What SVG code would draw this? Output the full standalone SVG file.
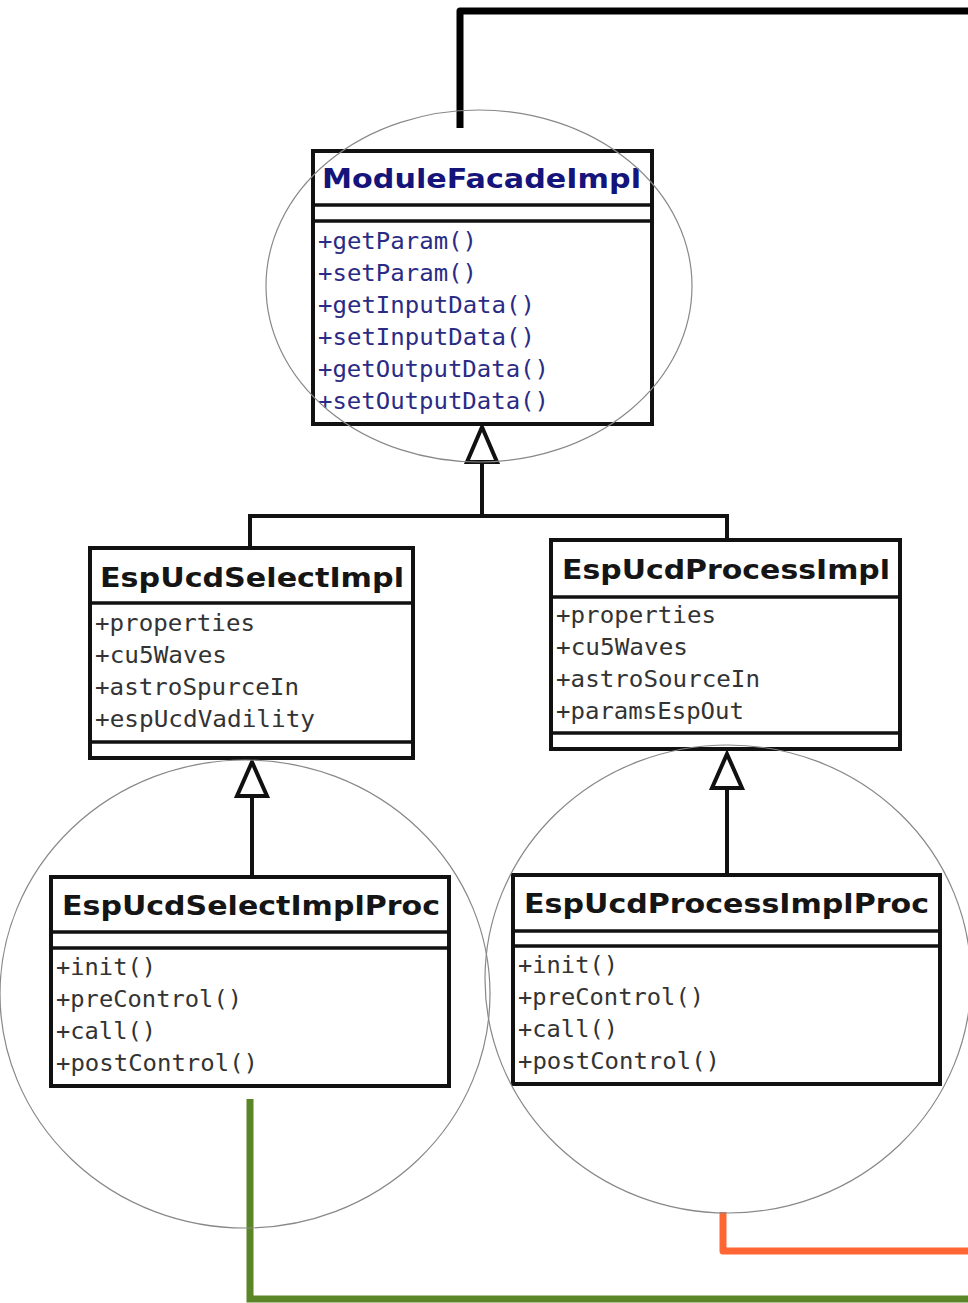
<svg xmlns="http://www.w3.org/2000/svg" width="968" height="1303" viewBox="0 0 968 1303">
<style>
.box{fill:#fff;stroke:#111;stroke-width:4}
.div{stroke:#111;stroke-width:3.5}
.title{font-family:"DejaVu Sans",sans-serif;font-weight:bold;font-size:27px;fill:#151515}
.navy{fill:#14147a}
.mem{font-family:"DejaVu Sans Mono",monospace;font-size:23px;fill:#333}
.memb{fill:#2b2b85}
.ell{fill:none;stroke:#888;stroke-width:1.2}
.gen{fill:none;stroke:#111;stroke-width:4}
.tri{fill:#fff;stroke:#111;stroke-width:4;stroke-linejoin:miter}
</style>
<g id="connectors">
<path class="gen" d="M482 463 V516 M250 516 H727 M250 514 V548 M727 514 V540"/>
<polygon class="tri" points="482,427 497,462 467,462"/>
<path class="gen" d="M252 796 V877"/>
<polygon class="tri" points="252,762 267,796 237,796"/>
<path class="gen" d="M727 788 V875"/>
<polygon class="tri" points="727,754 742,788 712,788"/>
<path d="M460 128 V11 H968" fill="none" stroke="#000" stroke-width="7" stroke-linejoin="round"/>
<path d="M250 1099 V1299 H968" fill="none" stroke="#5b8628" stroke-width="7"/>
<path d="M723 1212 V1251 H968" fill="none" stroke="#ff6633" stroke-width="7" stroke-linejoin="round"/>
</g>
<g id="ModuleFacadeImpl">
<rect class="box" x="313" y="151" width="339" height="273"/>
<line class="div" x1="313" y1="205" x2="652" y2="205"/>
<line class="div" x1="313" y1="221" x2="652" y2="221"/>
<text class="title navy" x="322" y="188" textLength="319" lengthAdjust="spacingAndGlyphs">ModuleFacadeImpl</text>
<g class="mem memb">
<text x="318" y="249" textLength="159" lengthAdjust="spacingAndGlyphs">+getParam()</text>
<text x="318" y="281" textLength="159" lengthAdjust="spacingAndGlyphs">+setParam()</text>
<text x="318" y="313" textLength="217" lengthAdjust="spacingAndGlyphs">+getInputData()</text>
<text x="318" y="345" textLength="217" lengthAdjust="spacingAndGlyphs">+setInputData()</text>
<text x="318" y="377" textLength="231" lengthAdjust="spacingAndGlyphs">+getOutputData()</text>
<text x="318" y="409" textLength="231" lengthAdjust="spacingAndGlyphs">+setOutputData()</text>
</g>
</g>
<g id="EspUcdSelectImpl">
<rect class="box" x="90" y="548" width="323" height="210"/>
<line class="div" x1="90" y1="603" x2="413" y2="603"/>
<line class="div" x1="90" y1="742" x2="413" y2="742"/>
<text class="title" x="100" y="587" textLength="304" lengthAdjust="spacingAndGlyphs">EspUcdSelectImpl</text>
<g class="mem">
<text x="95" y="631" textLength="160" lengthAdjust="spacingAndGlyphs">+properties</text>
<text x="95" y="663" textLength="132" lengthAdjust="spacingAndGlyphs">+cu5Waves</text>
<text x="95" y="695" textLength="204" lengthAdjust="spacingAndGlyphs">+astroSpurceIn</text>
<text x="95" y="727" textLength="220" lengthAdjust="spacingAndGlyphs">+espUcdVadility</text>
</g>
</g>
<g id="EspUcdProcessImpl">
<rect class="box" x="551" y="540" width="349" height="209"/>
<line class="div" x1="551" y1="597" x2="900" y2="597"/>
<line class="div" x1="551" y1="733" x2="900" y2="733"/>
<text class="title" x="562" y="579" textLength="328" lengthAdjust="spacingAndGlyphs">EspUcdProcessImpl</text>
<g class="mem">
<text x="556" y="623" textLength="160" lengthAdjust="spacingAndGlyphs">+properties</text>
<text x="556" y="655" textLength="132" lengthAdjust="spacingAndGlyphs">+cu5Waves</text>
<text x="556" y="687" textLength="204" lengthAdjust="spacingAndGlyphs">+astroSourceIn</text>
<text x="556" y="719" textLength="188" lengthAdjust="spacingAndGlyphs">+paramsEspOut</text>
</g>
</g>
<g id="EspUcdSelectImplProc">
<rect class="box" x="51" y="877" width="398" height="209"/>
<line class="div" x1="51" y1="932" x2="449" y2="932"/>
<line class="div" x1="51" y1="948" x2="449" y2="948"/>
<text class="title" x="62" y="915" textLength="378" lengthAdjust="spacingAndGlyphs">EspUcdSelectImplProc</text>
<g class="mem">
<text x="56" y="975" textLength="100" lengthAdjust="spacingAndGlyphs">+init()</text>
<text x="56" y="1007" textLength="186" lengthAdjust="spacingAndGlyphs">+preControl()</text>
<text x="56" y="1039" textLength="100" lengthAdjust="spacingAndGlyphs">+call()</text>
<text x="56" y="1071" textLength="202" lengthAdjust="spacingAndGlyphs">+postControl()</text>
</g>
</g>
<g id="EspUcdProcessImplProc">
<rect class="box" x="513" y="875" width="427" height="209"/>
<line class="div" x1="513" y1="931" x2="940" y2="931"/>
<line class="div" x1="513" y1="946" x2="940" y2="946"/>
<text class="title" x="524" y="913" textLength="405" lengthAdjust="spacingAndGlyphs">EspUcdProcessImplProc</text>
<g class="mem">
<text x="518" y="973" textLength="100" lengthAdjust="spacingAndGlyphs">+init()</text>
<text x="518" y="1005" textLength="186" lengthAdjust="spacingAndGlyphs">+preControl()</text>
<text x="518" y="1037" textLength="100" lengthAdjust="spacingAndGlyphs">+call()</text>
<text x="518" y="1069" textLength="202" lengthAdjust="spacingAndGlyphs">+postControl()</text>
</g>
</g>
<g id="highlights">
<ellipse class="ell" cx="479" cy="286" rx="213" ry="176"/>
<ellipse class="ell" cx="245" cy="994" rx="245" ry="234"/>
<ellipse class="ell" cx="728" cy="979" rx="243" ry="234"/>
</g>
</svg>
